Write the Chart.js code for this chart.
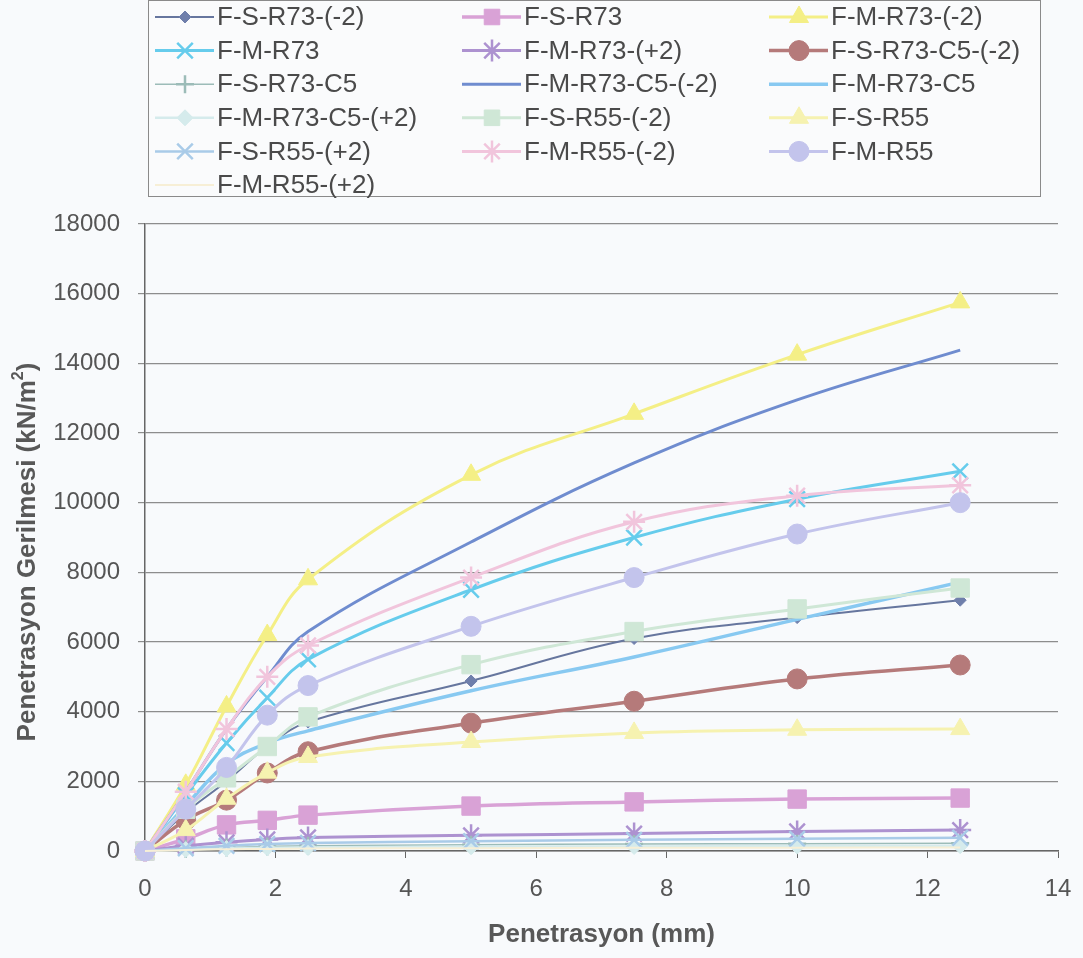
<!DOCTYPE html>
<html>
<head>
<meta charset="utf-8">
<script src="https://cdn.jsdelivr.net/npm/chart.js@4/dist/chart.umd.min.js"></script>
<style>
  html, body { margin: 0; padding: 0; background: #f8fafc; }
  #wrap { width: 1083px; height: 958px; }
</style>
</head>
<body>
<div id="wrap"><canvas id="penChart" width="1083" height="958"></canvas></div>
<script>
// penetration steps (mm)
const penetration = [0, 0.625, 1.25, 1.875, 2.5, 5, 7.5, 10, 12.5];

const seriesNames = [
    'F-S-R73-(-2)', 'F-S-R73', 'F-M-R73-(-2)',
    'F-M-R73', 'F-M-R73-(+2)', 'F-S-R73-C5-(-2)',
    'F-S-R73-C5', 'F-M-R73-C5-(-2)', 'F-M-R73-C5',
    'F-M-R73-C5-(+2)', 'F-S-R55-(-2)', 'F-S-R55',
    'F-S-R55-(+2)', 'F-M-R55-(-2)', 'F-M-R55',
    'F-M-R55-(+2)'
];

// stress values (kN/m2)
const fsR73m2    = [0, 1100, 2000, 3000, 3700, 4880, 6100, 6700, 7200];
const fsR73      = [0, 350, 750, 880, 1030, 1290, 1410, 1490, 1520];
const fmR73m2    = [0, 1900, 4150, 6200, 7800, 10800, 12550, 14250, 15750];
const fmR73      = [0, 1600, 3100, 4400, 5500, 7500, 9000, 10100, 10900];
const fmR73p2    = [0, 150, 250, 330, 390, 450, 500, 560, 600];
const fsR73C5m2  = [0, 890, 1460, 2240, 2850, 3670, 4300, 4940, 5340];
const fsR73C5    = [0, 60, 100, 130, 150, 180, 200, 210, 220];
const fmR73C5m2  = [0, 1700, 3500, 5000, 6300, 8870, 11140, 12950, 14380];
const fmR73C5    = [0, 1300, 2500, 3100, 3450, 4600, 5570, 6650, 7720];
const fmR73C5p2  = [0, 40, 70, 90, 100, 120, 130, 140, 150];
const fsR55m2    = [0, 1200, 2100, 3000, 3850, 5350, 6300, 6950, 7550];
const fsR55      = [0, 600, 1500, 2250, 2700, 3130, 3390, 3480, 3500];
const fsR55p2    = [0, 80, 150, 200, 230, 280, 320, 350, 380];
const fmR55m2    = [0, 1700, 3500, 5000, 5900, 7850, 9450, 10200, 10500];
const fmR55      = [0, 1200, 2400, 3900, 4750, 6450, 7850, 9100, 10000];
const fmR55p2    = [0, 30, 50, 60, 70, 80, 90, 95, 100];

const allValues = [fsR73m2, fsR73, fmR73m2, fmR73, fmR73p2, fsR73C5m2, fsR73C5, fmR73C5m2,
    fmR73C5, fmR73C5p2, fsR55m2, fsR55, fsR55p2, fmR55m2, fmR55, fmR55p2];

const xTicks = [0, 2, 4, 6, 8, 10, 12, 14];
const yTicks = [0, 2000, 4000, 6000, 8000, 10000, 12000, 14000, 16000, 18000];

// look of each series: [line colour, marker colour, marker, marker radius, line width]
const looks = [
    ['#66769e', '#6f7fab', 'rectRot', 6, 2],
    ['#d9a2d6', '#d9a2d6', 'rect', 13, 3.5],
    ['#f4ef86', '#f4ef86', 'triangle', 11, 3],
    ['#66ccec', '#66ccec', 'crossRot', 11, 3],
    ['#ad92d0', '#ad92d0', 'star', 11, 3],
    ['#b57a7a', '#b57a7a', 'circle', 10, 3.5],
    ['#9cbcb8', '#9cbcb8', 'cross', 9, 1.5],
    ['#6f8ccf', '#6f8ccf', 'circle', 0, 3],
    ['#88c9f1', '#88c9f1', 'circle', 0, 3.5],
    ['#d5ebec', '#d5ebec', 'rectRot', 8, 2.5],
    ['#cfe7d6', '#cfe7d6', 'rect', 13, 3],
    ['#f6f2b0', '#f6f2b0', 'triangle', 11, 3],
    ['#a9cbe8', '#a9cbe8', 'crossRot', 11, 2.5],
    ['#f1c5dc', '#f1c5dc', 'star', 11, 3],
    ['#c3c4ec', '#c3c4ec', 'circle', 10, 3],
    ['#f7efd6', '#f7efd6', 'circle', 0, 2]
];

const markBorder = (style) => (style === 'crossRot' || style === 'star' || style === 'cross') ? 2.5 : 1;

const datasets = seriesNames.map((name, i) => ({
    label: name,
    data: penetration.map((x, k) => ({ x: x, y: allValues[i][k] })),
    borderColor: looks[i][0],
    backgroundColor: looks[i][1],
    pointBorderColor: looks[i][1],
    pointBackgroundColor: looks[i][1],
    pointStyle: looks[i][2],
    pointRadius: looks[i][3],
    pointBorderWidth: markBorder(looks[i][2]),
    borderWidth: looks[i][4],
    tension: 0.4,
    clip: false,
    order: seriesNames.length - i
}));

// legend box and y-axis title drawn on the canvas
const boxLegend = {
    id: 'boxLegend',
    afterDraw(chart) {
        const ctx = chart.ctx;
        ctx.save();
        ctx.strokeStyle = '#8a8a8a';
        ctx.lineWidth = 1;
        ctx.fillStyle = '#fafbfc';
        ctx.fillRect(148.5, 0.5, 892, 196);
        ctx.strokeRect(148.5, 0.5, 892, 196);
        const colX = [155, 462, 769];
        ctx.font = '26px "Liberation Sans", Arial, sans-serif';
        ctx.textBaseline = 'middle';
        seriesNames.forEach((name, i) => {
            const x0 = colX[i % 3];
            const y = 17 + Math.floor(i / 3) * 33.6;
            const lk = looks[i];
            ctx.strokeStyle = lk[0];
            ctx.lineWidth = lk[4];
            ctx.beginPath();
            ctx.moveTo(x0, y);
            ctx.lineTo(x0 + 59, y);
            ctx.stroke();
            if (lk[3] > 0) {
                ctx.fillStyle = lk[1];
                ctx.strokeStyle = lk[1];
                ctx.lineWidth = markBorder(lk[2]);
                Chart.helpers.drawPoint(ctx, {
                    pointStyle: lk[2], radius: Math.min(lk[3], 11), rotation: 0,
                    borderWidth: markBorder(lk[2])
                }, x0 + 30, y);
            }
            ctx.fillStyle = '#4a4a4a';
            ctx.fillText(name, x0 + 62, y + 1);
        });

        // y title with a raised 2
        ctx.translate(28, 552);
        ctx.rotate(-Math.PI / 2);
        ctx.fillStyle = '#585858';
        ctx.textBaseline = 'middle';
        const mainFont = 'bold 26px "Liberation Sans", Arial';
        const supFont = 'bold 16px "Liberation Sans", Arial';
        const partA = 'Penetrasyon Gerilmesi (kN/m';
        ctx.font = mainFont;
        const wA = ctx.measureText(partA).width;
        const wP = ctx.measureText(')').width;
        ctx.font = supFont;
        const wS = ctx.measureText('2').width;
        let x = -(wA + wS + wP) / 2;
        ctx.font = mainFont;
        ctx.fillText(partA, x, 0);
        x += wA;
        ctx.font = supFont;
        ctx.fillText('2', x, -9);
        x += wS;
        ctx.font = mainFont;
        ctx.fillText(')', x, 0);
        ctx.restore();
    }
};

new Chart(document.getElementById('penChart'), {
    type: 'line',
    data: { datasets: datasets },
    options: {
        responsive: false,
        animation: false,
        layout: { padding: { top: 224, right: 25, left: 8, bottom: 6 } },
        plugins: {
            legend: { display: false },
            tooltip: { enabled: false }
        },
        scales: {
            x: {
                type: 'linear',
                min: 0, max: 14,
                afterBuildTicks: (s) => { s.ticks = xTicks.map(v => ({ value: v })); },
                afterFit: (s) => { s.height = 101; s.paddingRight = 0; s.paddingLeft = 0; },
                grid: { display: true, drawOnChartArea: false, drawTicks: true, tickLength: 7, color: '#666' },
                border: { color: '#666', width: 1.5 },
                ticks: {
                    color: '#555', font: { size: 24, family: '"Liberation Sans", Arial' }, padding: 17,
                    callback: (v) => String(v)
                },
                title: {
                    display: true, text: 'Penetrasyon (mm)', color: '#585858',
                    font: { size: 26, weight: 'bold', family: '"Liberation Sans", Arial' },
                    padding: { top: 4, bottom: 2 }
                }
            },
            y: {
                type: 'linear',
                min: 0, max: 18000,
                afterBuildTicks: (s) => { s.ticks = yTicks.map(v => ({ value: v })); },
                afterFit: (s) => { s.width = 137; s.paddingTop = 0; s.paddingBottom = 0; },
                grid: { color: '#8d8d8d', lineWidth: 1.2, tickLength: 7 },
                border: { color: '#666', width: 1.5 },
                ticks: {
                    color: '#555', font: { size: 24, family: '"Liberation Sans", Arial' }, padding: 18,
                    callback: (v) => String(v)
                },
                title: { display: false }
            }
        }
    },
    plugins: [boxLegend]
});
</script>
</body>
</html>
